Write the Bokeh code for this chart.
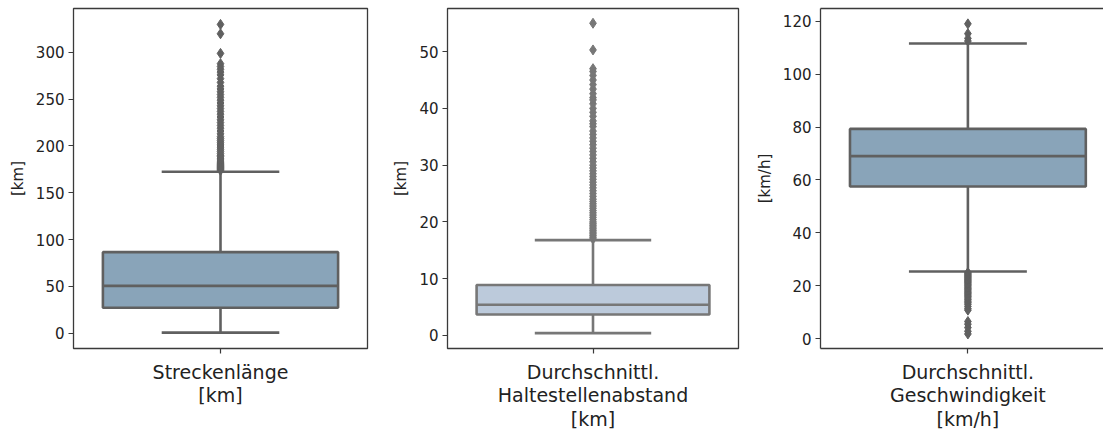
from bokeh.plotting import figure
from bokeh.layouts import row
from bokeh.models import FixedTicker, Range1d, ColumnDataSource, LinearAxis
from bokeh.embed import file_html
from bokeh.resources import INLINE

# ---------------- data ----------------
labels = ["Streckenlänge\n[km]",
          "Durchschnittl.\nHaltestellenabstand\n[km]",
          "Durchschnittl.\nGeschwindigkeit\n[km/h]"]
y_labels = ["[km]", "[km]", "[km/h]"]

whisker_low = [0.5, 0.4, 25.4]
q1 = [27.0, 3.7, 57.5]
median = [50.5, 5.4, 69.0]
q3 = [86.5, 8.9, 79.3]
whisker_high = [172.5, 16.8, 111.6]

outliers_1 = [174, 175, 176, 177, 178, 179, 180, 181, 182, 183, 184, 186, 187,
              189, 190, 192, 194, 196, 198, 200, 202, 204, 206, 208, 210, 213,
              216, 219, 222, 225, 228, 231, 234, 237, 240, 243, 246, 249, 252,
              255, 258, 261, 264, 268, 272, 276, 279, 282, 285, 288, 299, 320,
              330]
outliers_2 = [17.0, 17.3, 17.6, 17.9, 18.2, 18.5, 18.8, 19.1, 19.4, 19.7, 20.0,
              20.4, 20.8, 21.2, 21.6, 22.0, 22.4, 22.8, 23.2, 23.6, 24.0, 24.5,
              25.0, 25.5, 26.0, 26.5, 27.0, 27.5, 28.0, 28.5, 29.0, 29.5, 30.0,
              30.6, 31.2, 31.8, 32.4, 33.0, 33.6, 34.2, 34.8, 35.4, 36.0, 36.8,
              37.3, 37.8, 38.6, 39.3, 40.0, 40.8, 41.5, 41.9, 42.6, 43.4, 44.2,
              45.0, 45.8, 46.5, 47.0, 50.3, 55.0]
outliers_3 = [112.5, 113.5, 115.3, 119.0,
              25.0, 24.6, 24.2, 23.8, 23.4, 23.0, 22.6, 22.2, 21.8, 21.4, 21.0,
              20.5, 20.0, 19.5, 19.0, 18.5, 18.0, 17.5, 17.0, 16.5, 16.0, 15.4,
              14.8, 14.2, 13.6, 13.0, 12.2, 11.4, 10.8, 6.5, 5.5, 4.2, 2.8, 1.8]
outliers = [outliers_1, outliers_2, outliers_3]

y_ticks = [[0, 50, 100, 150, 200, 250, 300],
           [0, 10, 20, 30, 40, 50],
           [0, 20, 40, 60, 80, 100, 120]]
y_ranges = [(-16.5, 347), (-2.3, 57.6), (-3.7, 124.8)]
x_ranges = [(-0.5, 0.5), (-0.5, 0.5), (-0.5, 0.46)]

box_fill = ["#89a4b9", "#bccadb", "#89a4b9"]
line_col = ["#606060", "#777777", "#606060"]

frame_w = [294, 291, 283]
border_l = [73, 67, 70]
border_r = [13, 12, 0]

TEXT = "#222222"
SPINE = "#3a3a3a"
FONT = "DejaVu Sans"

figs = []
for i in range(3):
    p = figure(frame_width=frame_w[i], frame_height=340,
               min_border_left=border_l[i], min_border_right=border_r[i],
               min_border_top=8, min_border_bottom=82,
               x_range=Range1d(*x_ranges[i]), y_range=Range1d(*y_ranges[i]),
               output_backend="svg", toolbar_location=None)
    p.grid.visible = False
    p.background_fill_color = "white"
    p.border_fill_color = "white"
    last = (i == 2)
    if last:
        # frame runs past the right edge of the picture: no right spine
        p.outline_line_color = None
        top = LinearAxis(ticker=FixedTicker(ticks=[]),
                         major_tick_line_color=None, minor_tick_line_color=None,
                         axis_line_color=SPINE, axis_line_width=1.3)
        p.add_layout(top, "above")
    else:
        p.outline_line_color = SPINE
        p.outline_line_width = 1.3

    lc = line_col[i]
    # whiskers
    p.segment(x0=[0, 0], y0=[q3[i], q1[i]], x1=[0, 0],
              y1=[whisker_high[i], whisker_low[i]], line_color=lc, line_width=2.6)
    # caps
    p.segment(x0=[-0.2, -0.2], y0=[whisker_high[i], whisker_low[i]],
              x1=[0.2, 0.2], y1=[whisker_high[i], whisker_low[i]],
              line_color=lc, line_width=2.6)
    # box
    p.quad(left=[-0.4], right=[0.4], bottom=[q1[i]], top=[q3[i]],
           fill_color=box_fill[i], line_color=lc, line_width=2.6)
    # median
    p.segment(x0=[-0.4], y0=[median[i]], x1=[0.4], y1=[median[i]],
              line_color=lc, line_width=2.6)
    # outliers
    src = ColumnDataSource(dict(x=[0] * len(outliers[i]), y=outliers[i]))
    p.scatter("x", "y", source=src, marker="diamond", size=10,
              fill_color=lc, line_color=lc, line_width=1)

    # y axis
    ya = p.yaxis[0]
    ya.ticker = FixedTicker(ticks=y_ticks[i])
    ya.minor_tick_line_color = None
    ya.major_tick_in = 0
    ya.major_tick_out = 5
    ya.major_tick_line_color = SPINE
    ya.major_tick_line_width = 1.2
    ya.axis_line_color = SPINE if last else None
    ya.axis_line_width = 1.3
    ya.major_label_standoff = 4
    ya.major_label_text_font = FONT
    ya.major_label_text_font_size = "15px"
    ya.major_label_text_color = TEXT
    ya.axis_label = y_labels[i]
    ya.axis_label_text_font = FONT
    ya.axis_label_text_font_size = "15px"
    ya.axis_label_text_font_style = "normal"
    ya.axis_label_text_color = TEXT
    ya.axis_label_standoff = 6

    # x axis
    xa = p.below[0]
    xa.ticker = FixedTicker(ticks=[0])
    xa.major_label_overrides = {0: labels[i]}
    xa.minor_tick_line_color = None
    xa.major_tick_in = 0
    xa.major_tick_out = 5
    xa.major_tick_line_color = SPINE
    xa.major_tick_line_width = 1.2
    xa.axis_line_color = SPINE if last else None
    xa.axis_line_width = 1.3
    xa.major_label_standoff = 7
    xa.major_label_text_font = FONT
    xa.major_label_text_font_size = "19px"
    xa.major_label_text_color = TEXT
    xa.major_label_text_line_height = 1.08
    figs.append(p)

layout = row(*figs, spacing=0)

open("out.html", "w").write(file_html(layout, INLINE))
